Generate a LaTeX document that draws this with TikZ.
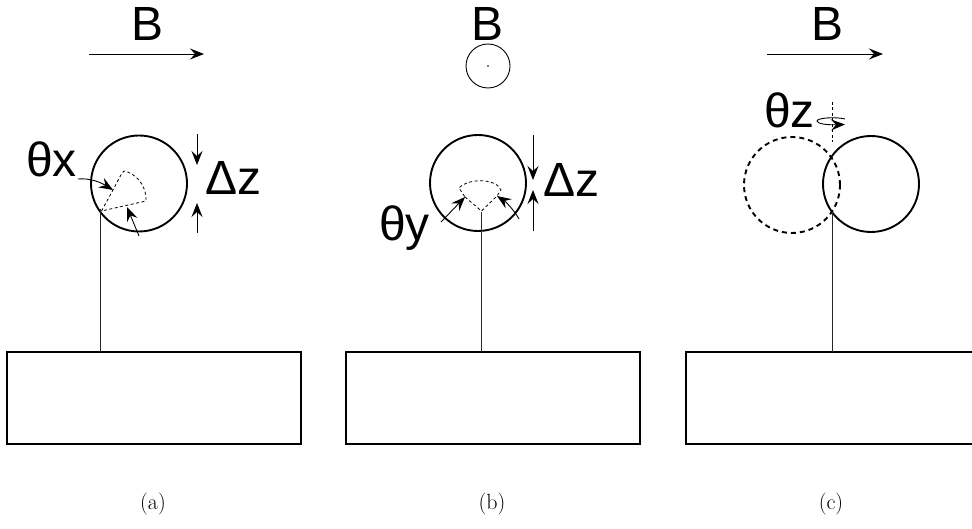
\documentclass[tikz,border=0pt]{standalone}
\usepackage{fontspec}
\setsansfont{Liberation Sans}
\usetikzlibrary{arrows.meta}
\tikzset{
  thinline/.style={line width=0.9pt,black!85},
  thick circle/.style={circle,draw,line width=1.9pt,minimum size=96pt,inner sep=0pt,outer sep=0pt},
  dash circle/.style={circle,draw,line width=1.9pt,dash pattern=on 5pt off 4pt,minimum size=96pt,inner sep=0pt,outer sep=0pt},
  base box/.style={draw,line width=1.6pt,minimum width=294pt,minimum height=92pt,inner sep=0pt,outer sep=0pt,anchor=north west},
  wedgeline/.style={line width=0.8pt,dash pattern=on 3pt off 2.5pt},
  arrowline/.style={line width=0.9pt,-{Stealth[length=14pt,width=11pt,inset=5pt]}},
  bigtext/.style={font=\fontsize{48}{48}\selectfont\sffamily,inner sep=0pt},
  captext/.style={font=\fontsize{22}{26}\selectfont,inner sep=0pt}
}
\begin{document}
\begin{tikzpicture}[x=1pt,y=-1pt]
\useasboundingbox (0,0) rectangle (972,529);
\clip (0,0) rectangle (972,529);
% (a)
\node[bigtext] (ba) at (148,24) {B};
\coordinate (ba1) at (89,54); \coordinate (ba2) at (204,54);
\draw[arrowline] (ba1) -- (ba2);
\node[thick circle] (ca) at (139,183.5) {};
\node[base box] (boxa) at (7,352) {};
\coordinate (sa) at (100,209);
\draw[thinline] (sa) -- (sa |- boxa.north);
\coordinate (wa) at (101.5,211); \coordinate (wa1) at (113,190); \coordinate (wa2) at (146,201);
\draw[wedgeline] (wa) -- (wa1) .. controls (117,183) and (120,175) .. (124,171) .. controls (135,173) and (147,185) .. (wa2) -- cycle;
\node[bigtext,anchor=west] (tx) at (26,159) {θx};
\coordinate (tx1) at (78,179);
\draw[arrowline] (tx1) .. controls (90,178) and (100,182) .. (wa1);
\coordinate (la) at (139,236); \coordinate (la2) at (127,207);
\draw[arrowline] (la) -- (la2);
\node[bigtext,anchor=west] (dza) at (205,178) {Δz};
\coordinate (a1) at (197,134); \coordinate (a2) at (197,165); \coordinate (a3) at (197,233); \coordinate (a4) at (197,203);
\draw[arrowline] (a1) -- (a2);
\draw[arrowline] (a3) -- (a4);
\node[captext] (capa) at (153,504) {(a)};
% (b)
\node[bigtext] (bb) at (488,24) {B};
\node[circle,draw,line width=0.9pt,minimum size=44pt,inner sep=0pt,outer sep=0pt] (cb0) at (488,66) {};
\fill (cb0.center) circle (0.9pt);
\node[thick circle] (cb) at (478,183) {};
\node[base box] (boxb) at (346,352) {};
\coordinate (sb) at (481.5,212);
\draw[thinline] (sb) -- (sb |- boxb.north);
\coordinate (wb) at (481.5,211); \coordinate (wb1) at (465,197); \coordinate (wb2) at (497,196);
\draw[wedgeline] (wb1) -- (wb) -- (wb2) -- (501,190) .. controls (496,178) and (468,178) .. (459,188) -- cycle;
\coordinate (p1) at (441,222); \coordinate (p2) at (519,219);
\draw[arrowline] (p1) -- (wb1);
\draw[arrowline] (p2) .. controls (514,210) and (506,202) .. (wb2);
\node[bigtext,anchor=west] (ty) at (379,228) {θy};
\coordinate (b1) at (533,135); \coordinate (b2) at (533,180); \coordinate (b3) at (533,231); \coordinate (b4) at (533,190);
\draw[arrowline] (b1) -- (b2);
\draw[arrowline] (b3) -- (b4);
\node[bigtext,anchor=west] (dzb) at (543,180) {Δz};
\node[captext] (capb) at (492,504) {(b)};
% (c)
\node[bigtext] (bc) at (827,24) {B};
\coordinate (bc1) at (767,54); \coordinate (bc2) at (883,54);
\draw[arrowline] (bc1) -- (bc2);
\node[dash circle] (cd) at (792,185) {};
\node[thick circle] (cc) at (871,184) {};
\node[base box] (boxc) at (686,352) {};
\coordinate (sc) at (832,212);
\draw[thinline] (sc) -- (sc |- boxc.north);
\coordinate (ax1) at (832.5,102); \coordinate (ax2) at (832.5,142);
\draw[wedgeline] (ax1) -- (ax2);
\node[bigtext,anchor=west] (tz) at (764,110) {θz};
\coordinate (r1) at (845,119); \coordinate (r2) at (845,124.5);
\draw[arrowline] (r1) .. controls (835,116.5) and (817,118) .. (817,121) .. controls (817,124) and (828,125) .. (r2);
\node[captext] (capc) at (831,504) {(c)};
\end{tikzpicture}
\end{document}
